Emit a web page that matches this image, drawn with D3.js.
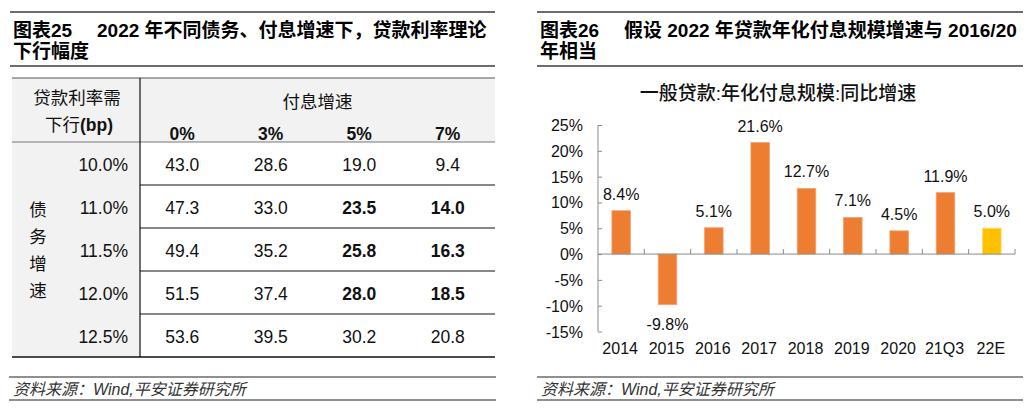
<!DOCTYPE html>
<html lang="zh">
<head>
<meta charset="UTF-8">
<title>图表25 / 图表26</title>
<script src="https://d3js.org/d3.v7.min.js"></script>
<style>
  body { margin: 0; background: #fff; }
  svg { display: block; font-family: "Liberation Sans", Arial, "Noto Sans CJK SC", sans-serif; }
  .ttl { font-size: 19px; font-weight: bold; fill: #000; }
  .cell { font-size: 17.5px; fill: #111; }
  .src { font-size: 16px; font-style: italic; fill: #333; }
</style>
</head>
<body>
<div id="chart"></div>
<script>
// ---- 表格数据 (图表25)
const debtRates = ["10.0%", "11.0%", "11.5%", "12.0%", "12.5%"];
const payGrowth = ["0%", "3%", "5%", "7%"];
const tableValues = [
  [43.0, 28.6, 19.0, 9.4],
  [47.3, 33.0, 23.5, 14.0],
  [49.4, 35.2, 25.8, 16.3],
  [51.5, 37.4, 28.0, 18.5],
  [53.6, 39.5, 30.2, 20.8]
];
const boldCells = ["1-2", "1-3", "2-2", "2-3", "3-2", "3-3"];

// ---- 柱状图数据 (图表26)
const categories = ["2014", "2015", "2016", "2017", "2018", "2019", "2020", "21Q3", "22E"];
const growth = [8.4, -9.8, 5.1, 21.6, 12.7, 7.1, 4.5, 11.9, 5.0];
const yTicks = [-15, -10, -5, 0, 5, 10, 15, 20, 25];

const W = 1032, H = 411;
const svg = d3.select("#chart").append("svg").attr("width", W).attr("height", H);

// 标题 + 上下横线
function header(x0, x1, num, line1, line2) {
  svg.append("line").attr("x1", x0).attr("x2", x1).attr("y1", 12).attr("y2", 12)
    .attr("stroke", "#6d6d6d").attr("stroke-width", 2);
  svg.append("line").attr("x1", x0).attr("x2", x1).attr("y1", 66).attr("y2", 66)
    .attr("stroke", "#6d6d6d").attr("stroke-width", 2);
  svg.append("text").attr("class", "ttl").attr("x", x0 + 3).attr("y", 37).text(num);
  svg.append("text").attr("class", "ttl").attr("x", x0 + 87).attr("y", 37).text(line1);
  svg.append("text").attr("class", "ttl").attr("x", x0 + 3).attr("y", 58).text(line2);
}
function source(x0, x1) {
  svg.append("line").attr("x1", x0).attr("x2", x1).attr("y1", 377).attr("y2", 377)
    .attr("stroke", "#222").attr("stroke-width", 1.2);
  svg.append("line").attr("x1", x0).attr("x2", x1).attr("y1", 400).attr("y2", 400)
    .attr("stroke", "#222").attr("stroke-width", 1.2);
  svg.append("text").attr("class", "src").attr("x", x0 + 4).attr("y", 395)
    .text("资料来源：Wind,平安证券研究所");
}

header(10, 495, "图表25", "2022 年不同债务、付息增速下，贷款利率理论", "下行幅度");
source(9, 496);
header(537, 1023, "图表26", "假设 2022 年贷款年化付息规模增速与 2016/20", "年相当");
source(537, 1023);

// ---- 表格
const tL = 12, tR = 495, tDiv = 140, tTop = 78, tHead = 142, tBot = 357;
const col = d3.scaleBand().domain(payGrowth).range([138, 492]);
const row = d3.scaleBand().domain(debtRates).range([tHead, tBot]);

svg.append("rect").attr("x", tL).attr("y", tTop).attr("width", tR - tL).attr("height", tHead - tTop)
  .attr("fill", "#f2f2f2");
svg.append("rect").attr("x", tL).attr("y", tHead).attr("width", tDiv - tL).attr("height", tBot - tHead)
  .attr("fill", "#f2f2f2");

svg.append("line").attr("x1", tL).attr("x2", tR).attr("y1", tTop).attr("y2", tTop)
  .attr("stroke", "#555").attr("stroke-width", 1.2);
svg.append("line").attr("x1", tL).attr("x2", tR).attr("y1", tHead).attr("y2", tHead)
  .attr("stroke", "#777").attr("stroke-width", 1.2);
svg.append("line").attr("x1", tL).attr("x2", tR).attr("y1", tBot).attr("y2", tBot)
  .attr("stroke", "#111").attr("stroke-width", 1.4);
svg.append("line").attr("x1", tDiv).attr("x2", tDiv).attr("y1", tTop).attr("y2", tBot)
  .attr("stroke", "#111").attr("stroke-width", 1.2);

svg.selectAll(".rowline").data(debtRates.slice(1)).enter().append("line")
  .attr("x1", tDiv).attr("x2", tR)
  .attr("y1", d => row(d)).attr("y2", d => row(d))
  .attr("stroke", "#111").attr("stroke-width", 1.2);

// 表头
svg.append("text").attr("class", "cell").attr("x", 77).attr("y", 104)
  .attr("text-anchor", "middle").text("贷款利率需");
svg.append("text").attr("class", "cell").attr("x", 79).attr("y", 131)
  .attr("text-anchor", "middle")
  .call(t => { t.append("tspan").text("下行"); t.append("tspan").attr("font-weight", "bold").text("(bp)"); });
svg.append("text").attr("class", "cell").attr("x", (tDiv + tR) / 2).attr("y", 108)
  .attr("text-anchor", "middle").text("付息增速");
svg.selectAll(".colhead").data(payGrowth).enter().append("text")
  .attr("class", "cell").attr("font-weight", "bold")
  .attr("x", d => col(d) + col.bandwidth() / 2).attr("y", 140)
  .attr("text-anchor", "middle").text(d => d);

// 债务增速 竖排
svg.selectAll(".vlab").data("债务增速".split("")).enter().append("text")
  .attr("class", "cell").attr("x", 38).attr("y", (d, i) => 216 + i * 27)
  .attr("text-anchor", "middle").text(d => d);

// 利率列
svg.selectAll(".rate").data(debtRates).enter().append("text")
  .attr("class", "cell").attr("x", 128).attr("y", d => row(d) + row.bandwidth() / 2 + 7)
  .attr("text-anchor", "end").text(d => d);

// 数值
debtRates.forEach((r, i) => {
  svg.selectAll(".v" + i).data(tableValues[i]).enter().append("text")
    .attr("class", "cell")
    .attr("font-weight", (d, j) => boldCells.includes(i + "-" + j) ? "bold" : "normal")
    .attr("x", (d, j) => col(payGrowth[j]) + col.bandwidth() / 2)
    .attr("y", row(r) + row.bandwidth() / 2 + 7)
    .attr("text-anchor", "middle").text(d => d.toFixed(1));
});

// ---- 柱状图
svg.append("text").attr("x", 778).attr("y", 100).attr("text-anchor", "middle")
  .attr("font-size", "19px").attr("font-weight", 500).attr("fill", "#111")
  .text("一般贷款:年化付息规模:同比增速");

const cL = 598, cR = 1015;
const x = d3.scaleBand().domain(categories).range([cL, cR]).paddingInner(0.6).paddingOuter(0.3);
const xb = d3.scaleBand().domain(categories).range([cL, cR]);
const y = d3.scaleLinear().domain([-15, 25]).range([331.5, 125]);

const yAxis = svg.append("g").attr("transform", `translate(${cL},0)`)
  .call(d3.axisRight(y).tickValues(yTicks).tickSize(4).tickFormat(""));
yAxis.selectAll("path, line").attr("stroke", "#8a8a8a");
yAxis.select(".domain").attr("d", `M0,${y(-15)}V${y(25)}`);

svg.selectAll(".ylab").data(yTicks).enter().append("text")
  .attr("x", cL - 15).attr("y", d => y(d) + 6).attr("text-anchor", "end")
  .attr("font-size", "16px").attr("fill", "#111").text(d => d + "%");

svg.selectAll(".bar").data(growth).enter().append("rect")
  .attr("x", (d, i) => x(categories[i]))
  .attr("width", x.bandwidth())
  .attr("y", d => y(Math.max(0, d)))
  .attr("height", d => Math.abs(y(d) - y(0)))
  .attr("fill", (d, i) => categories[i] === "22E" ? "#ffc000" : "#ed7d31")
  .attr("stroke", (d, i) => categories[i] === "22E" ? "#ffd966" : "#f4a26e")
  .attr("stroke-width", 0.8);

const xAxis = svg.append("g").attr("transform", `translate(0,${y(0)})`);
xAxis.append("line").attr("x1", cL).attr("x2", cR).attr("stroke", "#8a8a8a");
xAxis.selectAll(".xt").data(categories).enter().append("line")
  .attr("x1", d => xb(d) + xb.bandwidth()).attr("x2", d => xb(d) + xb.bandwidth())
  .attr("y1", 0).attr("y2", -5).attr("stroke", "#8a8a8a");

svg.selectAll(".xlab").data(categories).enter().append("text")
  .attr("x", d => xb(d) + xb.bandwidth() / 2 - 1).attr("y", 354)
  .attr("text-anchor", "middle").attr("font-size", "16px").attr("fill", "#111").text(d => d);

svg.selectAll(".vlabel").data(growth).enter().append("text")
  .attr("x", (d, i) => x(categories[i]) + x.bandwidth() / 2)
  .attr("y", d => d >= 0 ? y(d) - 11 : y(d) + 25)
  .attr("text-anchor", "middle").attr("font-size", "16px").attr("fill", "#111")
  .text(d => d.toFixed(1) + "%");
</script>
</body>
</html>
